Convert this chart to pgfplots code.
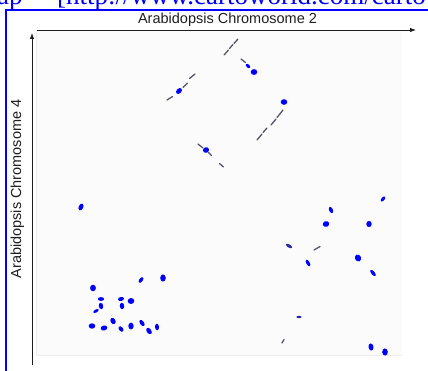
\documentclass[border=0pt]{standalone}
\usepackage{pgfplots}
\pgfplotsset{compat=1.18}
\usepackage{pgfplotstable}
\usepackage{fontspec}
\setmainfont{Liberation Sans}
\newfontfamily\seriffont{Liberation Serif}
\usetikzlibrary{arrows.meta}
\definecolor{dotblue}{RGB}{0,0,255}
\definecolor{segcol}{RGB}{85,85,105}
\definecolor{axcol}{RGB}{30,30,30}
\definecolor{darkdot}{RGB}{40,40,165}

\pgfdeclareplotmark{ell}{%
  \pgfmathsetmacro\eangb{\eang+90}%
  \pgfpathellipse{\pgfpointorigin}{\pgfpointpolar{\eang}{\erx bp}}{\pgfpointpolar{\eangb}{\ery bp}}%
  \pgfusepathqfill}

\pgfplotsset{ellstyle/.style={
  scatter, only marks, mark=ell,
  visualization depends on={\thisrow{ang} \as \eang},
  visualization depends on={\thisrow{rx} \as \erx},
  visualization depends on={\thisrow{ry} \as \ery}}}

\pgfplotstableread{
x y ang rx ry
81 207 65 3.6 2.3
179 91 45 3.4 2.4
248 66 -45 2.6 1.6
254 72 0 3.3 2.9
284 102 0 3.3 2.8
206 150 20 3.1 2.7
383 199 50 3.0 1.6
331 210 115 3.3 1.9
326 224 20 3.3 2.9
369 224 90 3.1 2.7
308 263 120 3.6 1.7
358 258 115 3.6 3.0
373 273 130 3.9 1.7
371 347 100 3.6 2.5
385 352 95 3.6 2.8
93 288 90 3.3 2.9
141 280 55 3.3 1.8
163 278 90 3.6 2.8
101 299 0 3.1 1.9
121 299 10 3.0 2.0
131 301 0 3.3 3.0
101 306 100 3.2 2.2
122 306 95 3.2 2.2
96 311 30 3.0 1.5
92 326 0 3.3 2.7
104 328 15 3.4 2.5
113 321 120 3.3 2.5
121 329 130 3.1 2.0
131 326 90 3.4 2.7
142 323 125 3.6 2.0
149 331 125 3.6 2.3
157 327 95 3.3 2.0
}\bluedots

\pgfplotstableread{
x y ang rx ry
289 246 150 3.4 1.6
299 317 0 2.6 1.2
}\darkdots

\begin{document}
\begin{tikzpicture}
\begin{axis}[
  at={(0,0)}, anchor=south west,
  scale only axis, width=428bp, height=371bp,
  xmin=0, xmax=428, ymin=0, ymax=371,
  y dir=reverse, hide axis, clip=false,
  unbounded coords=jump,
]
% faint plot background
\fill[black!1.5] (axis cs:36,30) rectangle (axis cs:402,355);
\draw[black!7, line width=0.6bp] (axis cs:36,30) -- (axis cs:36,355) -- (axis cs:402,355);

% gray alignment segments
\addplot[no markers, color=segcol, line width=1.3bp, line cap=round] coordinates {
(224,55) (228.5,50) (nan,nan) (229.5,48.5) (233,44.5) (nan,nan) (234,43.5) (238,39) (nan,nan)
(241,59) (245.5,62.5) (nan,nan)
(167,100) (172.5,96.5) (nan,nan) (183,87.5) (187.5,83) (nan,nan) (189.5,78.5) (195,74) (nan,nan)
(257,140) (262,134) (nan,nan) (263,132.5) (267,128) (nan,nan) (271,125) (276,119) (nan,nan) (277,117.5) (283,110) (nan,nan)
(198,144) (203,148) (nan,nan) (208,152) (211.5,155.5) (nan,nan) (219.5,163.5) (223.5,167) (nan,nan)
(314,250) (320,246.5) (nan,nan)
(282,343) (284,339.5)
};

% blue dots
\addplot[ellstyle, scatter/use mapped color={draw=none, fill=dotblue}] table[x=x, y=y] {\bluedots};
\addplot[ellstyle, scatter/use mapped color={draw=none, fill=darkdot}] table[x=x, y=y] {\darkdots};

% axes arrows
\draw[axcol, line width=0.8bp, -{Latex[length=6bp,width=4.5bp]}] (axis cs:37,30) -- (axis cs:416,30);
\draw[axcol, line width=0.8bp, -{Latex[length=6bp,width=4.5bp]}] (axis cs:32,365) -- (axis cs:32,33);

% labels
\node[anchor=base, inner sep=0, text=axcol, font=\fontsize{14.5bp}{17bp}\selectfont] at (axis cs:227.5,24) {Arabidopsis Chromosome 2};
\node[anchor=base, rotate=90, inner sep=0, text=axcol, font=\fontsize{14.5bp}{17bp}\selectfont] at (axis cs:21,189) {Arabidopsis Chromosome 4};

% outer blue frame and cut-off link text
\draw[dotblue, line width=2bp] (axis cs:6,380) -- (axis cs:6,10) -- (axis cs:440,10);
\node[anchor=base west, inner sep=0, text=dotblue, font=\seriffont\fontsize{27bp}{30bp}\selectfont] at (axis cs:-3,5) {ap};
\node[anchor=base west, inner sep=0, text=dotblue, font=\seriffont\fontsize{27bp}{30bp}\selectfont] at (axis cs:57,5) {[http://www.cartoworld.com/cartoworld};
\end{axis}
\pgfresetboundingbox
\useasboundingbox (0,0) rectangle (428bp,371bp);
\end{tikzpicture}
\end{document}
